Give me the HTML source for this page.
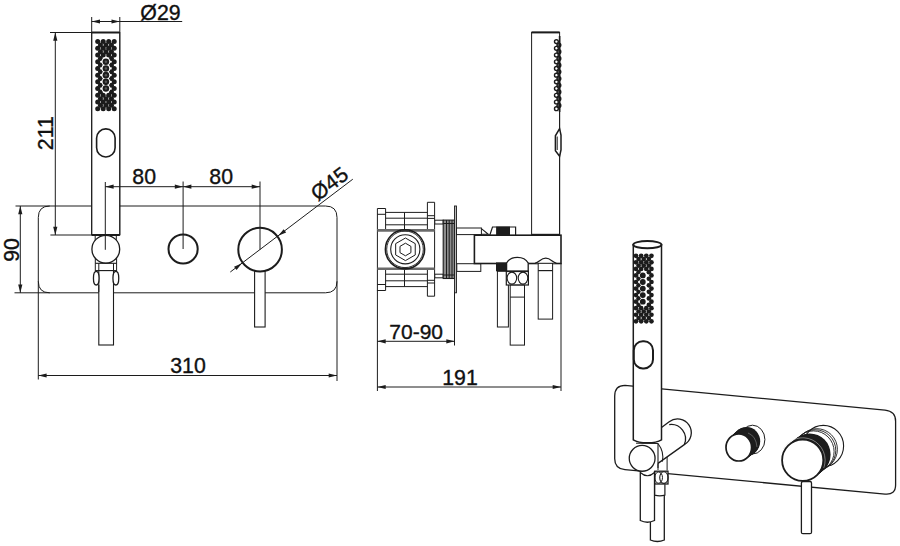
<!DOCTYPE html>
<html><head><meta charset="utf-8"><style>
html,body{margin:0;padding:0;background:#fff;}
svg{display:block;}
text{font-family:"Liberation Sans",sans-serif;}
</style></head><body>
<svg width="900" height="546" viewBox="0 0 900 546">
<rect width="900" height="546" fill="#fff"/>
<line x1="15.50" y1="206.00" x2="49.80" y2="206.00" stroke="#1c1c1c" stroke-width="1.0"/>
<line x1="49.80" y1="206.00" x2="325.50" y2="206.00" stroke="#1c1c1c" stroke-width="1.0"/>
<path d="M38.3,217.5 Q38.3,206.0 49.8,206.0" stroke="#1c1c1c" stroke-width="1.0" fill="none" />
<path d="M325.5,206.0 Q337.0,206.0 337.0,217.5" stroke="#1c1c1c" stroke-width="1.0" fill="none" />
<line x1="38.30" y1="217.50" x2="38.30" y2="379.50" stroke="#1c1c1c" stroke-width="1.0"/>
<line x1="337.00" y1="217.50" x2="337.00" y2="381.00" stroke="#1c1c1c" stroke-width="1.0"/>
<line x1="14.50" y1="292.80" x2="325.50" y2="292.80" stroke="#1c1c1c" stroke-width="1.0"/>
<path d="M38.3,281.3 Q38.3,292.8 49.8,292.8" stroke="#1c1c1c" stroke-width="1.0" fill="none" />
<path d="M337.0,281.3 Q337.0,292.8 325.5,292.8" stroke="#1c1c1c" stroke-width="1.0" fill="none" />
<line x1="20.30" y1="206.00" x2="20.30" y2="292.80" stroke="#1c1c1c" stroke-width="1.0"/>
<path d="M20.30,206.00 L22.40,214.30 L18.20,214.30 Z" fill="#1c1c1c" stroke="none"/>
<path d="M20.30,292.80 L18.20,284.50 L22.40,284.50 Z" fill="#1c1c1c" stroke="none"/>
<text x="18.60" y="250.00" font-size="21.3" text-anchor="middle" fill="#111" stroke="#111" stroke-width="0.35" transform="rotate(-90 18.60 250.00)">90</text>
<line x1="38.30" y1="375.50" x2="337.00" y2="375.50" stroke="#1c1c1c" stroke-width="1.0"/>
<path d="M38.30,375.50 L46.60,373.40 L46.60,377.60 Z" fill="#1c1c1c" stroke="none"/>
<path d="M337.00,375.50 L328.70,377.60 L328.70,373.40 Z" fill="#1c1c1c" stroke="none"/>
<text x="188.00" y="373.30" font-size="21.3" text-anchor="middle" fill="#111" stroke="#111" stroke-width="0.35">310</text>
<rect x="91.70" y="32.50" width="28.10" height="202.50" rx="0" stroke="#1c1c1c" stroke-width="1.0" fill="#fff"/>
<line x1="91.70" y1="17.00" x2="91.70" y2="235.00" stroke="#1c1c1c" stroke-width="1.0"/>
<line x1="119.80" y1="17.00" x2="119.80" y2="235.00" stroke="#1c1c1c" stroke-width="1.0"/>
<line x1="91.70" y1="32.50" x2="119.80" y2="32.50" stroke="#1c1c1c" stroke-width="2.0"/>
<line x1="91.70" y1="235.00" x2="119.80" y2="235.00" stroke="#1c1c1c" stroke-width="2.0"/>
<line x1="91.70" y1="21.50" x2="182.20" y2="21.50" stroke="#1c1c1c" stroke-width="1.0"/>
<path d="M91.70,21.50 L100.00,19.40 L100.00,23.60 Z" fill="#1c1c1c" stroke="none"/>
<path d="M119.80,21.50 L111.50,23.60 L111.50,19.40 Z" fill="#1c1c1c" stroke="none"/>
<text x="160.50" y="19.80" font-size="21.3" text-anchor="middle" fill="#111" stroke="#111" stroke-width="0.35">Ø29</text>
<line x1="50.00" y1="32.50" x2="91.70" y2="32.50" stroke="#1c1c1c" stroke-width="1.0"/>
<line x1="50.40" y1="235.00" x2="91.70" y2="235.00" stroke="#1c1c1c" stroke-width="1.0"/>
<line x1="55.30" y1="32.50" x2="55.30" y2="235.00" stroke="#1c1c1c" stroke-width="1.0"/>
<path d="M55.30,32.50 L57.40,40.80 L53.20,40.80 Z" fill="#1c1c1c" stroke="none"/>
<path d="M55.30,235.00 L53.20,226.70 L57.40,226.70 Z" fill="#1c1c1c" stroke="none"/>
<text x="52.60" y="133.20" font-size="21.3" text-anchor="middle" fill="#111" stroke="#111" stroke-width="0.35" transform="rotate(-90 52.60 133.20)">211</text>
<rect x="96.60" y="128.90" width="18.50" height="28.10" rx="9.2" stroke="#1c1c1c" stroke-width="1.6" fill="none"/>
<circle cx="97.70" cy="41.60" r="2.50" stroke="#1c1c1c" stroke-width="0" fill="#1c1c1c"/>
<circle cx="103.20" cy="41.60" r="2.50" stroke="#1c1c1c" stroke-width="0" fill="#1c1c1c"/>
<circle cx="108.70" cy="41.60" r="2.50" stroke="#1c1c1c" stroke-width="0" fill="#1c1c1c"/>
<circle cx="114.20" cy="41.60" r="2.50" stroke="#1c1c1c" stroke-width="0" fill="#1c1c1c"/>
<circle cx="97.70" cy="48.31" r="2.50" stroke="#1c1c1c" stroke-width="0" fill="#1c1c1c"/>
<circle cx="103.20" cy="48.31" r="2.50" stroke="#1c1c1c" stroke-width="0" fill="#1c1c1c"/>
<circle cx="108.70" cy="48.31" r="2.50" stroke="#1c1c1c" stroke-width="0" fill="#1c1c1c"/>
<circle cx="114.20" cy="48.31" r="2.50" stroke="#1c1c1c" stroke-width="0" fill="#1c1c1c"/>
<circle cx="97.70" cy="55.02" r="2.50" stroke="#1c1c1c" stroke-width="0" fill="#1c1c1c"/>
<circle cx="103.20" cy="55.02" r="2.50" stroke="#1c1c1c" stroke-width="0" fill="#1c1c1c"/>
<circle cx="108.70" cy="55.02" r="2.50" stroke="#1c1c1c" stroke-width="0" fill="#1c1c1c"/>
<circle cx="114.20" cy="55.02" r="2.50" stroke="#1c1c1c" stroke-width="0" fill="#1c1c1c"/>
<circle cx="97.70" cy="61.73" r="2.50" stroke="#1c1c1c" stroke-width="0" fill="#1c1c1c"/>
<circle cx="114.20" cy="61.73" r="2.50" stroke="#1c1c1c" stroke-width="0" fill="#1c1c1c"/>
<circle cx="97.70" cy="68.44" r="2.50" stroke="#1c1c1c" stroke-width="0" fill="#1c1c1c"/>
<circle cx="114.20" cy="68.44" r="2.50" stroke="#1c1c1c" stroke-width="0" fill="#1c1c1c"/>
<circle cx="97.70" cy="75.15" r="2.50" stroke="#1c1c1c" stroke-width="0" fill="#1c1c1c"/>
<circle cx="114.20" cy="75.15" r="2.50" stroke="#1c1c1c" stroke-width="0" fill="#1c1c1c"/>
<circle cx="97.70" cy="81.86" r="2.50" stroke="#1c1c1c" stroke-width="0" fill="#1c1c1c"/>
<circle cx="114.20" cy="81.86" r="2.50" stroke="#1c1c1c" stroke-width="0" fill="#1c1c1c"/>
<circle cx="97.70" cy="88.57" r="2.50" stroke="#1c1c1c" stroke-width="0" fill="#1c1c1c"/>
<circle cx="114.20" cy="88.57" r="2.50" stroke="#1c1c1c" stroke-width="0" fill="#1c1c1c"/>
<circle cx="97.70" cy="95.28" r="2.50" stroke="#1c1c1c" stroke-width="0" fill="#1c1c1c"/>
<circle cx="103.20" cy="95.28" r="2.50" stroke="#1c1c1c" stroke-width="0" fill="#1c1c1c"/>
<circle cx="108.70" cy="95.28" r="2.50" stroke="#1c1c1c" stroke-width="0" fill="#1c1c1c"/>
<circle cx="114.20" cy="95.28" r="2.50" stroke="#1c1c1c" stroke-width="0" fill="#1c1c1c"/>
<circle cx="97.70" cy="101.99" r="2.50" stroke="#1c1c1c" stroke-width="0" fill="#1c1c1c"/>
<circle cx="103.20" cy="101.99" r="2.50" stroke="#1c1c1c" stroke-width="0" fill="#1c1c1c"/>
<circle cx="108.70" cy="101.99" r="2.50" stroke="#1c1c1c" stroke-width="0" fill="#1c1c1c"/>
<circle cx="114.20" cy="101.99" r="2.50" stroke="#1c1c1c" stroke-width="0" fill="#1c1c1c"/>
<circle cx="97.70" cy="108.70" r="2.50" stroke="#1c1c1c" stroke-width="0" fill="#1c1c1c"/>
<circle cx="103.20" cy="108.70" r="2.50" stroke="#1c1c1c" stroke-width="0" fill="#1c1c1c"/>
<circle cx="108.70" cy="108.70" r="2.50" stroke="#1c1c1c" stroke-width="0" fill="#1c1c1c"/>
<circle cx="114.20" cy="108.70" r="2.50" stroke="#1c1c1c" stroke-width="0" fill="#1c1c1c"/>
<circle cx="100.45" cy="44.95" r="2.50" stroke="#1c1c1c" stroke-width="0" fill="#1c1c1c"/>
<circle cx="105.95" cy="44.95" r="2.50" stroke="#1c1c1c" stroke-width="0" fill="#1c1c1c"/>
<circle cx="111.45" cy="44.95" r="2.50" stroke="#1c1c1c" stroke-width="0" fill="#1c1c1c"/>
<circle cx="100.45" cy="51.66" r="2.50" stroke="#1c1c1c" stroke-width="0" fill="#1c1c1c"/>
<circle cx="105.95" cy="51.66" r="2.50" stroke="#1c1c1c" stroke-width="0" fill="#1c1c1c"/>
<circle cx="111.45" cy="51.66" r="2.50" stroke="#1c1c1c" stroke-width="0" fill="#1c1c1c"/>
<circle cx="100.45" cy="58.38" r="2.50" stroke="#1c1c1c" stroke-width="0" fill="#1c1c1c"/>
<circle cx="111.45" cy="58.38" r="2.50" stroke="#1c1c1c" stroke-width="0" fill="#1c1c1c"/>
<circle cx="100.45" cy="65.09" r="2.50" stroke="#1c1c1c" stroke-width="0" fill="#1c1c1c"/>
<circle cx="111.45" cy="65.09" r="2.50" stroke="#1c1c1c" stroke-width="0" fill="#1c1c1c"/>
<circle cx="100.45" cy="71.80" r="2.50" stroke="#1c1c1c" stroke-width="0" fill="#1c1c1c"/>
<circle cx="111.45" cy="71.80" r="2.50" stroke="#1c1c1c" stroke-width="0" fill="#1c1c1c"/>
<circle cx="100.45" cy="78.50" r="2.50" stroke="#1c1c1c" stroke-width="0" fill="#1c1c1c"/>
<circle cx="111.45" cy="78.50" r="2.50" stroke="#1c1c1c" stroke-width="0" fill="#1c1c1c"/>
<circle cx="100.45" cy="85.22" r="2.50" stroke="#1c1c1c" stroke-width="0" fill="#1c1c1c"/>
<circle cx="111.45" cy="85.22" r="2.50" stroke="#1c1c1c" stroke-width="0" fill="#1c1c1c"/>
<circle cx="100.45" cy="91.93" r="2.50" stroke="#1c1c1c" stroke-width="0" fill="#1c1c1c"/>
<circle cx="111.45" cy="91.93" r="2.50" stroke="#1c1c1c" stroke-width="0" fill="#1c1c1c"/>
<circle cx="100.45" cy="98.63" r="2.50" stroke="#1c1c1c" stroke-width="0" fill="#1c1c1c"/>
<circle cx="105.95" cy="98.63" r="2.50" stroke="#1c1c1c" stroke-width="0" fill="#1c1c1c"/>
<circle cx="111.45" cy="98.63" r="2.50" stroke="#1c1c1c" stroke-width="0" fill="#1c1c1c"/>
<circle cx="100.45" cy="105.34" r="2.50" stroke="#1c1c1c" stroke-width="0" fill="#1c1c1c"/>
<circle cx="105.95" cy="105.34" r="2.50" stroke="#1c1c1c" stroke-width="0" fill="#1c1c1c"/>
<circle cx="111.45" cy="105.34" r="2.50" stroke="#1c1c1c" stroke-width="0" fill="#1c1c1c"/>
<circle cx="105.90" cy="61.73" r="4.40" stroke="#1c1c1c" stroke-width="0" fill="#fff"/>
<circle cx="105.90" cy="68.44" r="4.40" stroke="#1c1c1c" stroke-width="0" fill="#fff"/>
<circle cx="105.90" cy="75.15" r="4.40" stroke="#1c1c1c" stroke-width="0" fill="#fff"/>
<circle cx="105.90" cy="81.86" r="4.40" stroke="#1c1c1c" stroke-width="0" fill="#fff"/>
<circle cx="105.90" cy="88.57" r="4.40" stroke="#1c1c1c" stroke-width="0" fill="#fff"/>
<circle cx="105.90" cy="61.73" r="3.30" stroke="#1c1c1c" stroke-width="0" fill="#1c1c1c"/>
<circle cx="105.90" cy="61.73" r="1.25" stroke="#1c1c1c" stroke-width="0" fill="#555"/>
<circle cx="105.90" cy="68.44" r="3.30" stroke="#1c1c1c" stroke-width="0" fill="#1c1c1c"/>
<circle cx="105.90" cy="68.44" r="1.25" stroke="#1c1c1c" stroke-width="0" fill="#555"/>
<circle cx="105.90" cy="75.15" r="3.30" stroke="#1c1c1c" stroke-width="0" fill="#1c1c1c"/>
<circle cx="105.90" cy="75.15" r="1.25" stroke="#1c1c1c" stroke-width="0" fill="#555"/>
<circle cx="105.90" cy="81.86" r="3.30" stroke="#1c1c1c" stroke-width="0" fill="#1c1c1c"/>
<circle cx="105.90" cy="81.86" r="1.25" stroke="#1c1c1c" stroke-width="0" fill="#555"/>
<circle cx="105.90" cy="88.57" r="3.30" stroke="#1c1c1c" stroke-width="0" fill="#1c1c1c"/>
<circle cx="105.90" cy="88.57" r="1.25" stroke="#1c1c1c" stroke-width="0" fill="#555"/>
<line x1="95.20" y1="235.00" x2="95.20" y2="243.00" stroke="#1c1c1c" stroke-width="1.0"/>
<line x1="116.30" y1="235.00" x2="116.30" y2="243.00" stroke="#1c1c1c" stroke-width="1.0"/>
<circle cx="105.80" cy="249.20" r="13.90" stroke="#1c1c1c" stroke-width="1.3" fill="#fff"/>
<line x1="95.30" y1="258.00" x2="95.30" y2="271.00" stroke="#1c1c1c" stroke-width="1.0"/>
<line x1="116.60" y1="258.00" x2="116.60" y2="271.00" stroke="#1c1c1c" stroke-width="1.0"/>
<line x1="95.30" y1="263.30" x2="116.60" y2="263.30" stroke="#1c1c1c" stroke-width="1.1"/>
<line x1="95.30" y1="270.60" x2="116.60" y2="270.60" stroke="#1c1c1c" stroke-width="1.1"/>
<rect x="98.80" y="270.60" width="14.70" height="74.40" rx="0" stroke="#1c1c1c" stroke-width="1.1" fill="#fff"/>
<line x1="98.80" y1="263.30" x2="98.80" y2="271.00" stroke="#1c1c1c" stroke-width="1.0"/>
<line x1="113.50" y1="263.30" x2="113.50" y2="271.00" stroke="#1c1c1c" stroke-width="1.0"/>
<ellipse cx="96.25" cy="278.20" rx="2.80" ry="6.80" transform="rotate(0 96.25 278.20)" stroke="#1c1c1c" stroke-width="1.3" fill="#fff"/>
<ellipse cx="115.85" cy="278.20" rx="2.90" ry="6.80" transform="rotate(0 115.85 278.20)" stroke="#1c1c1c" stroke-width="1.3" fill="#fff"/>
<line x1="98.80" y1="285.00" x2="98.80" y2="292.00" stroke="#1c1c1c" stroke-width="1.0"/>
<line x1="113.50" y1="285.00" x2="113.50" y2="292.00" stroke="#1c1c1c" stroke-width="1.0"/>
<line x1="105.30" y1="182.00" x2="105.30" y2="249.80" stroke="#1c1c1c" stroke-width="1.0"/>
<line x1="183.10" y1="181.50" x2="183.10" y2="249.00" stroke="#1c1c1c" stroke-width="1.0"/>
<line x1="260.00" y1="181.50" x2="260.00" y2="249.60" stroke="#1c1c1c" stroke-width="1.0"/>
<line x1="105.30" y1="186.70" x2="260.00" y2="186.70" stroke="#1c1c1c" stroke-width="1.0"/>
<path d="M105.30,186.70 L113.60,184.60 L113.60,188.80 Z" fill="#1c1c1c" stroke="none"/>
<path d="M183.10,186.70 L174.80,188.80 L174.80,184.60 Z" fill="#1c1c1c" stroke="none"/>
<path d="M183.10,186.70 L191.40,184.60 L191.40,188.80 Z" fill="#1c1c1c" stroke="none"/>
<path d="M260.00,186.70 L251.70,188.80 L251.70,184.60 Z" fill="#1c1c1c" stroke="none"/>
<text x="144.20" y="184.20" font-size="21.3" text-anchor="middle" fill="#111" stroke="#111" stroke-width="0.35">80</text>
<text x="221.20" y="184.20" font-size="21.3" text-anchor="middle" fill="#111" stroke="#111" stroke-width="0.35">80</text>
<circle cx="183.10" cy="249.00" r="14.60" stroke="#1c1c1c" stroke-width="2.0" fill="none"/>
<rect x="254.60" y="271.50" width="10.50" height="55.50" rx="0" stroke="#1c1c1c" stroke-width="1.1" fill="#fff"/>
<circle cx="260.10" cy="249.60" r="21.80" stroke="#1c1c1c" stroke-width="2.0" fill="none"/>
<line x1="230.30" y1="272.00" x2="352.80" y2="179.20" stroke="#1c1c1c" stroke-width="1.0"/>
<path d="M241.93,263.37 L236.58,270.05 L234.04,266.70 Z" fill="#1c1c1c" stroke="none"/>
<path d="M278.27,235.83 L283.62,229.15 L286.16,232.50 Z" fill="#1c1c1c" stroke="none"/>
<text x="333.89" y="189.51" font-size="21.3" text-anchor="middle" fill="#111" stroke="#111" stroke-width="0.35" transform="rotate(-37.15 333.89 189.51)">Ø45</text>
<line x1="377.40" y1="290.00" x2="377.40" y2="391.00" stroke="#1c1c1c" stroke-width="1.0"/>
<line x1="454.50" y1="291.00" x2="454.50" y2="345.50" stroke="#1c1c1c" stroke-width="1.0"/>
<line x1="377.40" y1="341.30" x2="454.60" y2="341.30" stroke="#1c1c1c" stroke-width="1.0"/>
<path d="M377.40,341.30 L385.70,339.20 L385.70,343.40 Z" fill="#1c1c1c" stroke="none"/>
<path d="M454.60,341.30 L446.30,343.40 L446.30,339.20 Z" fill="#1c1c1c" stroke="none"/>
<text x="416.20" y="339.20" font-size="21" text-anchor="middle" fill="#111" stroke="#111" stroke-width="0.35">70-90</text>
<line x1="561.00" y1="263.00" x2="561.00" y2="391.00" stroke="#1c1c1c" stroke-width="1.0"/>
<line x1="377.40" y1="387.00" x2="561.00" y2="387.00" stroke="#1c1c1c" stroke-width="1.0"/>
<path d="M377.40,387.00 L385.70,384.90 L385.70,389.10 Z" fill="#1c1c1c" stroke="none"/>
<path d="M561.00,387.00 L552.70,389.10 L552.70,384.90 Z" fill="#1c1c1c" stroke="none"/>
<text x="460.00" y="384.70" font-size="21.3" text-anchor="middle" fill="#111" stroke="#111" stroke-width="0.35">191</text>
<path d="M377.4,229.6 L377.4,208.5 L385.6,208.5 L385.6,229.6" stroke="#1c1c1c" stroke-width="1.0" fill="none" />
<path d="M377.4,270 L377.4,290.5 L385.6,290.5 L385.6,270" stroke="#1c1c1c" stroke-width="1.0" fill="none" />
<line x1="377.40" y1="229.60" x2="377.40" y2="270.00" stroke="#1c1c1c" stroke-width="1.0"/>
<line x1="377.40" y1="214.30" x2="385.60" y2="214.30" stroke="#1c1c1c" stroke-width="1.0"/>
<line x1="377.40" y1="284.50" x2="385.60" y2="284.50" stroke="#1c1c1c" stroke-width="1.0"/>
<path d="M427.4,229.6 L427.4,202.3 L434.6,202.3 L434.6,229.6" stroke="#1c1c1c" stroke-width="1.0" fill="none" />
<path d="M427.4,270 L427.4,296.2 L434.6,296.2 L434.6,270" stroke="#1c1c1c" stroke-width="1.0" fill="none" />
<line x1="434.60" y1="229.60" x2="434.60" y2="270.00" stroke="#1c1c1c" stroke-width="1.0"/>
<line x1="427.40" y1="215.70" x2="434.60" y2="215.70" stroke="#1c1c1c" stroke-width="1.0"/>
<line x1="427.40" y1="218.40" x2="434.60" y2="218.40" stroke="#1c1c1c" stroke-width="1.0"/>
<line x1="427.40" y1="280.30" x2="434.60" y2="280.30" stroke="#1c1c1c" stroke-width="1.0"/>
<line x1="427.40" y1="283.00" x2="434.60" y2="283.00" stroke="#1c1c1c" stroke-width="1.0"/>
<line x1="385.60" y1="212.40" x2="427.40" y2="212.40" stroke="#1c1c1c" stroke-width="1.0"/>
<line x1="385.60" y1="218.20" x2="427.40" y2="218.20" stroke="#1c1c1c" stroke-width="1.0"/>
<line x1="385.60" y1="224.80" x2="427.40" y2="224.80" stroke="#1c1c1c" stroke-width="1.0"/>
<line x1="377.40" y1="230.40" x2="434.60" y2="230.40" stroke="#6a6a6a" stroke-width="2.6"/>
<line x1="385.60" y1="274.20" x2="427.40" y2="274.20" stroke="#1c1c1c" stroke-width="1.0"/>
<line x1="385.60" y1="280.80" x2="427.40" y2="280.80" stroke="#1c1c1c" stroke-width="1.0"/>
<line x1="385.60" y1="286.60" x2="427.40" y2="286.60" stroke="#1c1c1c" stroke-width="1.0"/>
<line x1="377.40" y1="268.80" x2="434.60" y2="268.80" stroke="#6a6a6a" stroke-width="2.6"/>
<line x1="404.50" y1="212.40" x2="404.50" y2="229.30" stroke="#1c1c1c" stroke-width="1.0"/>
<line x1="404.50" y1="270.00" x2="404.50" y2="286.60" stroke="#1c1c1c" stroke-width="1.0"/>
<circle cx="405.00" cy="249.30" r="19.60" stroke="#1c1c1c" stroke-width="1.6" fill="none"/>
<circle cx="405.00" cy="249.30" r="18.30" stroke="#1c1c1c" stroke-width="0.9" fill="none"/>
<circle cx="405.30" cy="249.30" r="14.60" stroke="#1c1c1c" stroke-width="1.1" fill="none"/>
<polygon points="405.45,238.00 415.24,243.65 415.24,254.95 405.45,260.60 395.66,254.95 395.66,243.65" stroke="#1c1c1c" stroke-width="1.0" fill="none"/>
<polygon points="405.45,243.20 410.91,246.35 410.91,252.65 405.45,255.80 399.99,252.65 399.99,246.35" stroke="#1c1c1c" stroke-width="1.0" fill="none"/>
<rect x="434.80" y="220.20" width="8.40" height="3.80" rx="0" stroke="#1c1c1c" stroke-width="1.0" fill="#fff"/>
<rect x="434.80" y="274.20" width="8.40" height="3.60" rx="0" stroke="#1c1c1c" stroke-width="1.0" fill="#fff"/>
<rect x="443.20" y="220.10" width="11.30" height="58.40" rx="0" stroke="#1c1c1c" stroke-width="1.1" fill="#8c8c8c"/>
<line x1="446.50" y1="220.10" x2="446.50" y2="278.50" stroke="#1c1c1c" stroke-width="1.0"/>
<line x1="449.20" y1="220.10" x2="449.20" y2="278.50" stroke="#1c1c1c" stroke-width="1.0"/>
<line x1="452.00" y1="220.10" x2="452.00" y2="278.50" stroke="#1c1c1c" stroke-width="1.0"/>
<line x1="443.20" y1="223.50" x2="454.50" y2="223.50" stroke="#1c1c1c" stroke-width="1.0"/>
<line x1="443.20" y1="275.00" x2="454.50" y2="275.00" stroke="#1c1c1c" stroke-width="1.0"/>
<rect x="454.50" y="206.00" width="2.00" height="86.80" rx="0" stroke="#1c1c1c" stroke-width="0.9" fill="#bbb"/>
<rect x="456.50" y="228.00" width="24.90" height="6.60" rx="0" stroke="#1c1c1c" stroke-width="1.0" fill="#fff"/>
<rect x="456.80" y="263.70" width="24.00" height="7.70" rx="0" stroke="#1c1c1c" stroke-width="1.0" fill="#fff"/>
<rect x="474.40" y="235.20" width="86.60" height="28.30" rx="0" stroke="#1c1c1c" stroke-width="1.6" fill="#fff"/>
<path d="M481.4,228.6 L488.3,234.3 L481.4,234.3" stroke="#1c1c1c" stroke-width="1.1" fill="none" />
<path d="M489.7,235.5 L492.5,227 L515.6,227 L515.6,235.5" stroke="#1c1c1c" stroke-width="1.2" fill="none" />
<rect x="496.10" y="226.60" width="13.90" height="9.00" rx="0" stroke="#1c1c1c" stroke-width="0" fill="#1c1c1c"/>
<rect x="496.00" y="262.40" width="11.20" height="8.90" rx="0" stroke="#1c1c1c" stroke-width="0" fill="#1c1c1c"/>
<rect x="497.40" y="271.30" width="11.00" height="55.70" rx="0" stroke="#1c1c1c" stroke-width="1.0" fill="#fff"/>
<path d="M506.6,271.3 L506.6,263 C509,258.6 513,257.3 517.4,257.3 C521.8,257.3 525.8,258.6 528.2,263 L528.2,271.3" stroke="#1c1c1c" stroke-width="1.3" fill="#fff" />
<rect x="506.30" y="271.30" width="22.10" height="13.70" rx="0" stroke="#1c1c1c" stroke-width="1.2" fill="#fff"/>
<line x1="506.30" y1="271.30" x2="528.40" y2="271.30" stroke="#1c1c1c" stroke-width="1.6"/>
<ellipse cx="511.90" cy="278.10" rx="4.80" ry="6.00" transform="rotate(0 511.90 278.10)" stroke="#1c1c1c" stroke-width="1.1" fill="none"/>
<ellipse cx="523.00" cy="278.10" rx="4.80" ry="6.00" transform="rotate(0 523.00 278.10)" stroke="#1c1c1c" stroke-width="1.1" fill="none"/>
<rect x="510.20" y="285.20" width="14.30" height="59.90" rx="0" stroke="#1c1c1c" stroke-width="1.0" fill="#fff"/>
<line x1="510.20" y1="297.10" x2="524.50" y2="297.10" stroke="#1c1c1c" stroke-width="1.0"/>
<path d="M535.0,263.3 C539.5,262.5 540.5,258.2 545.8,258.2 C551,258.2 552,262.5 556.5,263.3" stroke="#1c1c1c" stroke-width="1.2" fill="#fff" />
<rect x="538.20" y="263.30" width="14.40" height="55.80" rx="0" stroke="#1c1c1c" stroke-width="1.0" fill="#fff"/>
<line x1="538.20" y1="270.60" x2="552.60" y2="270.60" stroke="#1c1c1c" stroke-width="1.2"/>
<rect x="531.60" y="32.40" width="28.00" height="202.20" rx="0" stroke="#1c1c1c" stroke-width="1.0" fill="#fff"/>
<line x1="531.60" y1="32.40" x2="559.60" y2="32.40" stroke="#1c1c1c" stroke-width="2.0"/>
<line x1="531.60" y1="234.60" x2="559.60" y2="234.60" stroke="#1c1c1c" stroke-width="1.6"/>
<circle cx="556.40" cy="41.60" r="1.90" stroke="#1c1c1c" stroke-width="1.4" fill="#fff"/>
<circle cx="556.40" cy="48.31" r="1.90" stroke="#1c1c1c" stroke-width="1.4" fill="#fff"/>
<circle cx="556.40" cy="55.02" r="1.90" stroke="#1c1c1c" stroke-width="1.4" fill="#fff"/>
<circle cx="556.40" cy="61.73" r="1.90" stroke="#1c1c1c" stroke-width="1.4" fill="#fff"/>
<circle cx="556.40" cy="68.44" r="1.90" stroke="#1c1c1c" stroke-width="1.4" fill="#fff"/>
<circle cx="556.40" cy="75.15" r="1.90" stroke="#1c1c1c" stroke-width="1.4" fill="#fff"/>
<circle cx="556.40" cy="81.86" r="1.90" stroke="#1c1c1c" stroke-width="1.4" fill="#fff"/>
<circle cx="556.40" cy="88.57" r="1.90" stroke="#1c1c1c" stroke-width="1.4" fill="#fff"/>
<circle cx="556.40" cy="95.28" r="1.90" stroke="#1c1c1c" stroke-width="1.4" fill="#fff"/>
<circle cx="556.40" cy="101.99" r="1.90" stroke="#1c1c1c" stroke-width="1.4" fill="#fff"/>
<circle cx="556.40" cy="108.70" r="1.90" stroke="#1c1c1c" stroke-width="1.4" fill="#fff"/>
<circle cx="558.90" cy="45.00" r="1.90" stroke="#1c1c1c" stroke-width="1.4" fill="#555"/>
<circle cx="558.90" cy="51.71" r="1.90" stroke="#1c1c1c" stroke-width="1.4" fill="#555"/>
<circle cx="558.90" cy="58.42" r="1.90" stroke="#1c1c1c" stroke-width="1.4" fill="#555"/>
<circle cx="558.90" cy="65.13" r="1.90" stroke="#1c1c1c" stroke-width="1.4" fill="#555"/>
<circle cx="558.90" cy="71.84" r="1.90" stroke="#1c1c1c" stroke-width="1.4" fill="#555"/>
<circle cx="558.90" cy="78.55" r="1.90" stroke="#1c1c1c" stroke-width="1.4" fill="#555"/>
<circle cx="558.90" cy="85.26" r="1.90" stroke="#1c1c1c" stroke-width="1.4" fill="#555"/>
<circle cx="558.90" cy="91.97" r="1.90" stroke="#1c1c1c" stroke-width="1.4" fill="#555"/>
<circle cx="558.90" cy="98.68" r="1.90" stroke="#1c1c1c" stroke-width="1.4" fill="#555"/>
<circle cx="558.90" cy="105.39" r="1.90" stroke="#1c1c1c" stroke-width="1.4" fill="#555"/>
<line x1="559.60" y1="36.00" x2="559.60" y2="112.00" stroke="#1c1c1c" stroke-width="1.6"/>
<line x1="559.60" y1="36.00" x2="559.60" y2="234.60" stroke="#1c1c1c" stroke-width="1.0"/>
<path d="M559.6,128.7 L555.4,135.8 L555.4,150.7 L559.6,156.2 L561,150 L561,135 Z" stroke="#1c1c1c" stroke-width="1.5" fill="#fff" />
<line x1="557.20" y1="136.50" x2="557.20" y2="150.00" stroke="#1c1c1c" stroke-width="1.0"/>
<path d="M614.7,396 Q614.7,385.30 625,385.30 L885,410.16 Q895.6,411.17 895.6,421.17 L895.6,485.09 Q895.6,495.09 885,494.09 L625,469.60 Q614.7,468.63 614.7,458.63 Z" stroke="#1c1c1c" stroke-width="1.3" fill="#fff" />
<ellipse cx="752.50" cy="439.60" rx="12.40" ry="14.40" transform="rotate(0 752.50 439.60)" stroke="#1c1c1c" stroke-width="1.0" fill="#fff"/>
<ellipse cx="738.80" cy="447.50" rx="12.80" ry="13.50" transform="rotate(0 738.80 447.50)" stroke="#1c1c1c" stroke-width="0" fill="#1c1c1c"/>
<ellipse cx="739.36" cy="447.06" rx="12.86" ry="13.56" transform="rotate(0 739.36 447.06)" stroke="#1c1c1c" stroke-width="0" fill="#1c1c1c"/>
<ellipse cx="739.91" cy="446.61" rx="12.91" ry="13.61" transform="rotate(0 739.91 446.61)" stroke="#1c1c1c" stroke-width="0" fill="#1c1c1c"/>
<ellipse cx="740.47" cy="446.17" rx="12.97" ry="13.67" transform="rotate(0 740.47 446.17)" stroke="#1c1c1c" stroke-width="0" fill="#1c1c1c"/>
<ellipse cx="741.03" cy="445.73" rx="13.03" ry="13.73" transform="rotate(0 741.03 445.73)" stroke="#1c1c1c" stroke-width="0" fill="#1c1c1c"/>
<ellipse cx="741.59" cy="445.29" rx="13.09" ry="13.79" transform="rotate(0 741.59 445.29)" stroke="#1c1c1c" stroke-width="0" fill="#1c1c1c"/>
<ellipse cx="742.14" cy="444.84" rx="13.14" ry="13.84" transform="rotate(0 742.14 444.84)" stroke="#1c1c1c" stroke-width="0" fill="#1c1c1c"/>
<ellipse cx="742.70" cy="444.40" rx="13.20" ry="13.90" transform="rotate(0 742.70 444.40)" stroke="#1c1c1c" stroke-width="0" fill="#1c1c1c"/>
<ellipse cx="743.26" cy="443.96" rx="13.26" ry="13.96" transform="rotate(0 743.26 443.96)" stroke="#1c1c1c" stroke-width="0" fill="#1c1c1c"/>
<ellipse cx="743.81" cy="443.51" rx="13.31" ry="14.01" transform="rotate(0 743.81 443.51)" stroke="#1c1c1c" stroke-width="0" fill="#1c1c1c"/>
<ellipse cx="744.37" cy="443.07" rx="13.37" ry="14.07" transform="rotate(0 744.37 443.07)" stroke="#1c1c1c" stroke-width="0" fill="#1c1c1c"/>
<ellipse cx="744.93" cy="442.63" rx="13.43" ry="14.13" transform="rotate(0 744.93 442.63)" stroke="#1c1c1c" stroke-width="0" fill="#1c1c1c"/>
<ellipse cx="745.49" cy="442.19" rx="13.49" ry="14.19" transform="rotate(0 745.49 442.19)" stroke="#1c1c1c" stroke-width="0" fill="#1c1c1c"/>
<ellipse cx="746.04" cy="441.74" rx="13.54" ry="14.24" transform="rotate(0 746.04 441.74)" stroke="#1c1c1c" stroke-width="0" fill="#1c1c1c"/>
<ellipse cx="746.60" cy="441.30" rx="13.60" ry="14.30" transform="rotate(0 746.60 441.30)" stroke="#1c1c1c" stroke-width="0" fill="#1c1c1c"/>
<path d="M748,433 Q756,436 757,447" stroke="#bbb" stroke-width="0.4" fill="none" />
<ellipse cx="738.80" cy="447.50" rx="12.80" ry="13.50" transform="rotate(0 738.80 447.50)" stroke="#1c1c1c" stroke-width="1.7" fill="#fff"/>
<ellipse cx="823.30" cy="446.00" rx="20.30" ry="20.60" transform="rotate(0 823.30 446.00)" stroke="#1c1c1c" stroke-width="1.1" fill="#fff"/>
<ellipse cx="813.50" cy="451.50" rx="20.60" ry="20.60" transform="rotate(0 813.50 451.50)" stroke="#1c1c1c" stroke-width="0.9" fill="none"/>
<ellipse cx="815.20" cy="450.40" rx="20.60" ry="20.60" transform="rotate(0 815.20 450.40)" stroke="#1c1c1c" stroke-width="0.9" fill="none"/>
<ellipse cx="816.80" cy="449.30" rx="20.60" ry="20.60" transform="rotate(0 816.80 449.30)" stroke="#1c1c1c" stroke-width="0.9" fill="none"/>
<ellipse cx="802.70" cy="460.20" rx="20.60" ry="20.60" transform="rotate(0 802.70 460.20)" stroke="#1c1c1c" stroke-width="0" fill="#1c1c1c"/>
<ellipse cx="803.20" cy="459.79" rx="20.62" ry="20.62" transform="rotate(0 803.20 459.79)" stroke="#1c1c1c" stroke-width="0" fill="#1c1c1c"/>
<ellipse cx="803.70" cy="459.37" rx="20.64" ry="20.64" transform="rotate(0 803.70 459.37)" stroke="#1c1c1c" stroke-width="0" fill="#1c1c1c"/>
<ellipse cx="804.20" cy="458.96" rx="20.66" ry="20.66" transform="rotate(0 804.20 458.96)" stroke="#1c1c1c" stroke-width="0" fill="#1c1c1c"/>
<ellipse cx="804.70" cy="458.54" rx="20.69" ry="20.69" transform="rotate(0 804.70 458.54)" stroke="#1c1c1c" stroke-width="0" fill="#1c1c1c"/>
<ellipse cx="805.20" cy="458.13" rx="20.71" ry="20.71" transform="rotate(0 805.20 458.13)" stroke="#1c1c1c" stroke-width="0" fill="#1c1c1c"/>
<ellipse cx="805.70" cy="457.71" rx="20.73" ry="20.73" transform="rotate(0 805.70 457.71)" stroke="#1c1c1c" stroke-width="0" fill="#1c1c1c"/>
<ellipse cx="806.20" cy="457.30" rx="20.75" ry="20.75" transform="rotate(0 806.20 457.30)" stroke="#1c1c1c" stroke-width="0" fill="#1c1c1c"/>
<ellipse cx="806.70" cy="456.89" rx="20.77" ry="20.77" transform="rotate(0 806.70 456.89)" stroke="#1c1c1c" stroke-width="0" fill="#1c1c1c"/>
<ellipse cx="807.20" cy="456.47" rx="20.79" ry="20.79" transform="rotate(0 807.20 456.47)" stroke="#1c1c1c" stroke-width="0" fill="#1c1c1c"/>
<ellipse cx="807.70" cy="456.06" rx="20.81" ry="20.81" transform="rotate(0 807.70 456.06)" stroke="#1c1c1c" stroke-width="0" fill="#1c1c1c"/>
<ellipse cx="808.20" cy="455.64" rx="20.84" ry="20.84" transform="rotate(0 808.20 455.64)" stroke="#1c1c1c" stroke-width="0" fill="#1c1c1c"/>
<ellipse cx="808.70" cy="455.23" rx="20.86" ry="20.86" transform="rotate(0 808.70 455.23)" stroke="#1c1c1c" stroke-width="0" fill="#1c1c1c"/>
<ellipse cx="809.20" cy="454.81" rx="20.88" ry="20.88" transform="rotate(0 809.20 454.81)" stroke="#1c1c1c" stroke-width="0" fill="#1c1c1c"/>
<ellipse cx="809.70" cy="454.40" rx="20.90" ry="20.90" transform="rotate(0 809.70 454.40)" stroke="#1c1c1c" stroke-width="0" fill="#1c1c1c"/>
<path d="M783.30,449.00 A22.4,22.4 0 0 1 823.75,467.86" stroke="#e0e0e0" stroke-width="0.5" fill="none" />
<ellipse cx="802.70" cy="460.20" rx="20.60" ry="20.60" transform="rotate(0 802.70 460.20)" stroke="#1c1c1c" stroke-width="1.8" fill="#fff"/>
<rect x="801.40" y="481.50" width="10.10" height="52.20" rx="1.5" stroke="#1c1c1c" stroke-width="1.3" fill="#fff"/>
<path d="M650.4,522 L650.4,540 Q657.4,543 664.3,540 L664.3,495" stroke="#1c1c1c" stroke-width="1.3" fill="#fff" />
<path d="M654.6,484.2 L654.6,495.1 Q659.8,496.5 664.9,495.1 L664.9,484.2" stroke="#1c1c1c" stroke-width="1.2" fill="#fff" />
<rect x="654.80" y="471.20" width="13.20" height="12.80" rx="0" stroke="#1c1c1c" stroke-width="1.3" fill="#fff"/>
<ellipse cx="658.60" cy="477.60" rx="3.90" ry="5.60" transform="rotate(0 658.60 477.60)" stroke="#1c1c1c" stroke-width="1.0" fill="none"/>
<ellipse cx="663.90" cy="477.60" rx="4.20" ry="5.80" transform="rotate(0 663.90 477.60)" stroke="#1c1c1c" stroke-width="1.1" fill="none"/>
<line x1="658.00" y1="457.00" x2="658.00" y2="470.00" stroke="#1c1c1c" stroke-width="1.0"/>
<line x1="667.10" y1="457.00" x2="667.10" y2="470.50" stroke="#1c1c1c" stroke-width="1.0"/>
<path d="M661.5,427.4 L669.2,421.7 A13.75,13.75 0 1 1 684.3,444.6 L658,463.4 L650,463 L650,428 Z" fill="#fff" stroke="none"/>
<path d="M661.5,427.4 L669.2,421.7 A13.75,13.75 0 1 1 684.3,444.6 L658,463.4" stroke="#1c1c1c" stroke-width="1.3" fill="none" />
<path d="M669.2,424.6 A14.4,14.4 0 0 1 684.3,444.6" stroke="#1c1c1c" stroke-width="1.3" fill="none" />
<path d="M640.3,471 L640.3,520.5 Q647.4,524 654.5,520.5 L654.5,471" stroke="#1c1c1c" stroke-width="1.3" fill="#fff" />
<path d="M640.3,472.5 Q647.4,479 654.5,472.5" stroke="#1c1c1c" stroke-width="1.1" fill="none" />
<path d="M658,443.5 Q664.5,452 662.3,461.6" stroke="#1c1c1c" stroke-width="1.1" fill="none" />
<line x1="658.00" y1="443.50" x2="658.00" y2="468.00" stroke="#1c1c1c" stroke-width="1.1"/>
<circle cx="642.15" cy="458.35" r="12.90" stroke="#1c1c1c" stroke-width="1.3" fill="#fff"/>
<path d="M633.3,244.7 L633.3,439.8 Q638,442.8 647.4,442.8 Q656.8,442.8 661.5,439.8 L661.5,244.7 Z" stroke="#1c1c1c" stroke-width="1.5" fill="#fff" />
<path d="M636,443.2 L658,443.5" stroke="#1c1c1c" stroke-width="1.0" fill="none" />
<ellipse cx="647.35" cy="244.65" rx="14.10" ry="3.55" transform="rotate(0 647.35 244.65)" stroke="#1c1c1c" stroke-width="2.0" fill="#fff"/>
<rect x="633.80" y="341.20" width="19.20" height="27.20" rx="9" stroke="#1c1c1c" stroke-width="2.0" fill="none"/>
<circle cx="636.00" cy="255.80" r="2.35" stroke="#1c1c1c" stroke-width="0" fill="#1c1c1c"/>
<circle cx="641.15" cy="255.80" r="2.35" stroke="#1c1c1c" stroke-width="0" fill="#1c1c1c"/>
<circle cx="646.30" cy="255.80" r="2.35" stroke="#1c1c1c" stroke-width="0" fill="#1c1c1c"/>
<circle cx="651.45" cy="255.80" r="2.35" stroke="#1c1c1c" stroke-width="0" fill="#1c1c1c"/>
<circle cx="636.00" cy="262.35" r="2.35" stroke="#1c1c1c" stroke-width="0" fill="#1c1c1c"/>
<circle cx="641.15" cy="262.35" r="2.35" stroke="#1c1c1c" stroke-width="0" fill="#1c1c1c"/>
<circle cx="646.30" cy="262.35" r="2.35" stroke="#1c1c1c" stroke-width="0" fill="#1c1c1c"/>
<circle cx="651.45" cy="262.35" r="2.35" stroke="#1c1c1c" stroke-width="0" fill="#1c1c1c"/>
<circle cx="636.00" cy="268.90" r="2.35" stroke="#1c1c1c" stroke-width="0" fill="#1c1c1c"/>
<circle cx="641.15" cy="268.90" r="2.35" stroke="#1c1c1c" stroke-width="0" fill="#1c1c1c"/>
<circle cx="646.30" cy="268.90" r="2.35" stroke="#1c1c1c" stroke-width="0" fill="#1c1c1c"/>
<circle cx="651.45" cy="268.90" r="2.35" stroke="#1c1c1c" stroke-width="0" fill="#1c1c1c"/>
<circle cx="636.00" cy="275.45" r="2.35" stroke="#1c1c1c" stroke-width="0" fill="#1c1c1c"/>
<circle cx="651.45" cy="275.45" r="2.35" stroke="#1c1c1c" stroke-width="0" fill="#1c1c1c"/>
<circle cx="636.00" cy="282.00" r="2.35" stroke="#1c1c1c" stroke-width="0" fill="#1c1c1c"/>
<circle cx="651.45" cy="282.00" r="2.35" stroke="#1c1c1c" stroke-width="0" fill="#1c1c1c"/>
<circle cx="636.00" cy="288.55" r="2.35" stroke="#1c1c1c" stroke-width="0" fill="#1c1c1c"/>
<circle cx="651.45" cy="288.55" r="2.35" stroke="#1c1c1c" stroke-width="0" fill="#1c1c1c"/>
<circle cx="636.00" cy="295.10" r="2.35" stroke="#1c1c1c" stroke-width="0" fill="#1c1c1c"/>
<circle cx="651.45" cy="295.10" r="2.35" stroke="#1c1c1c" stroke-width="0" fill="#1c1c1c"/>
<circle cx="636.00" cy="301.65" r="2.35" stroke="#1c1c1c" stroke-width="0" fill="#1c1c1c"/>
<circle cx="651.45" cy="301.65" r="2.35" stroke="#1c1c1c" stroke-width="0" fill="#1c1c1c"/>
<circle cx="636.00" cy="308.20" r="2.35" stroke="#1c1c1c" stroke-width="0" fill="#1c1c1c"/>
<circle cx="641.15" cy="308.20" r="2.35" stroke="#1c1c1c" stroke-width="0" fill="#1c1c1c"/>
<circle cx="646.30" cy="308.20" r="2.35" stroke="#1c1c1c" stroke-width="0" fill="#1c1c1c"/>
<circle cx="651.45" cy="308.20" r="2.35" stroke="#1c1c1c" stroke-width="0" fill="#1c1c1c"/>
<circle cx="636.00" cy="314.75" r="2.35" stroke="#1c1c1c" stroke-width="0" fill="#1c1c1c"/>
<circle cx="641.15" cy="314.75" r="2.35" stroke="#1c1c1c" stroke-width="0" fill="#1c1c1c"/>
<circle cx="646.30" cy="314.75" r="2.35" stroke="#1c1c1c" stroke-width="0" fill="#1c1c1c"/>
<circle cx="651.45" cy="314.75" r="2.35" stroke="#1c1c1c" stroke-width="0" fill="#1c1c1c"/>
<circle cx="636.00" cy="321.30" r="2.35" stroke="#1c1c1c" stroke-width="0" fill="#1c1c1c"/>
<circle cx="641.15" cy="321.30" r="2.35" stroke="#1c1c1c" stroke-width="0" fill="#1c1c1c"/>
<circle cx="646.30" cy="321.30" r="2.35" stroke="#1c1c1c" stroke-width="0" fill="#1c1c1c"/>
<circle cx="651.45" cy="321.30" r="2.35" stroke="#1c1c1c" stroke-width="0" fill="#1c1c1c"/>
<circle cx="638.58" cy="259.07" r="2.35" stroke="#1c1c1c" stroke-width="0" fill="#1c1c1c"/>
<circle cx="643.73" cy="259.07" r="2.35" stroke="#1c1c1c" stroke-width="0" fill="#1c1c1c"/>
<circle cx="648.88" cy="259.07" r="2.35" stroke="#1c1c1c" stroke-width="0" fill="#1c1c1c"/>
<circle cx="638.58" cy="265.62" r="2.35" stroke="#1c1c1c" stroke-width="0" fill="#1c1c1c"/>
<circle cx="643.73" cy="265.62" r="2.35" stroke="#1c1c1c" stroke-width="0" fill="#1c1c1c"/>
<circle cx="648.88" cy="265.62" r="2.35" stroke="#1c1c1c" stroke-width="0" fill="#1c1c1c"/>
<circle cx="638.58" cy="272.18" r="2.35" stroke="#1c1c1c" stroke-width="0" fill="#1c1c1c"/>
<circle cx="648.88" cy="272.18" r="2.35" stroke="#1c1c1c" stroke-width="0" fill="#1c1c1c"/>
<circle cx="638.58" cy="278.73" r="2.35" stroke="#1c1c1c" stroke-width="0" fill="#1c1c1c"/>
<circle cx="648.88" cy="278.73" r="2.35" stroke="#1c1c1c" stroke-width="0" fill="#1c1c1c"/>
<circle cx="638.58" cy="285.28" r="2.35" stroke="#1c1c1c" stroke-width="0" fill="#1c1c1c"/>
<circle cx="648.88" cy="285.28" r="2.35" stroke="#1c1c1c" stroke-width="0" fill="#1c1c1c"/>
<circle cx="638.58" cy="291.82" r="2.35" stroke="#1c1c1c" stroke-width="0" fill="#1c1c1c"/>
<circle cx="648.88" cy="291.82" r="2.35" stroke="#1c1c1c" stroke-width="0" fill="#1c1c1c"/>
<circle cx="638.58" cy="298.38" r="2.35" stroke="#1c1c1c" stroke-width="0" fill="#1c1c1c"/>
<circle cx="648.88" cy="298.38" r="2.35" stroke="#1c1c1c" stroke-width="0" fill="#1c1c1c"/>
<circle cx="638.58" cy="304.93" r="2.35" stroke="#1c1c1c" stroke-width="0" fill="#1c1c1c"/>
<circle cx="648.88" cy="304.93" r="2.35" stroke="#1c1c1c" stroke-width="0" fill="#1c1c1c"/>
<circle cx="638.58" cy="311.48" r="2.35" stroke="#1c1c1c" stroke-width="0" fill="#1c1c1c"/>
<circle cx="643.73" cy="311.48" r="2.35" stroke="#1c1c1c" stroke-width="0" fill="#1c1c1c"/>
<circle cx="648.88" cy="311.48" r="2.35" stroke="#1c1c1c" stroke-width="0" fill="#1c1c1c"/>
<circle cx="638.58" cy="318.03" r="2.35" stroke="#1c1c1c" stroke-width="0" fill="#1c1c1c"/>
<circle cx="643.73" cy="318.03" r="2.35" stroke="#1c1c1c" stroke-width="0" fill="#1c1c1c"/>
<circle cx="648.88" cy="318.03" r="2.35" stroke="#1c1c1c" stroke-width="0" fill="#1c1c1c"/>
<circle cx="642.80" cy="275.45" r="3.40" stroke="#1c1c1c" stroke-width="0" fill="#fff"/>
<circle cx="642.80" cy="282.00" r="3.40" stroke="#1c1c1c" stroke-width="0" fill="#fff"/>
<circle cx="642.80" cy="288.55" r="3.40" stroke="#1c1c1c" stroke-width="0" fill="#fff"/>
<circle cx="642.80" cy="295.10" r="3.40" stroke="#1c1c1c" stroke-width="0" fill="#fff"/>
<circle cx="642.80" cy="301.65" r="3.40" stroke="#1c1c1c" stroke-width="0" fill="#fff"/>
<circle cx="642.80" cy="275.45" r="2.90" stroke="#1c1c1c" stroke-width="0" fill="#1c1c1c"/>
<circle cx="642.80" cy="282.00" r="2.90" stroke="#1c1c1c" stroke-width="0" fill="#1c1c1c"/>
<circle cx="642.80" cy="288.55" r="2.90" stroke="#1c1c1c" stroke-width="0" fill="#1c1c1c"/>
<circle cx="642.80" cy="295.10" r="2.90" stroke="#1c1c1c" stroke-width="0" fill="#1c1c1c"/>
<circle cx="642.80" cy="301.65" r="2.90" stroke="#1c1c1c" stroke-width="0" fill="#1c1c1c"/>
</svg></body></html>
